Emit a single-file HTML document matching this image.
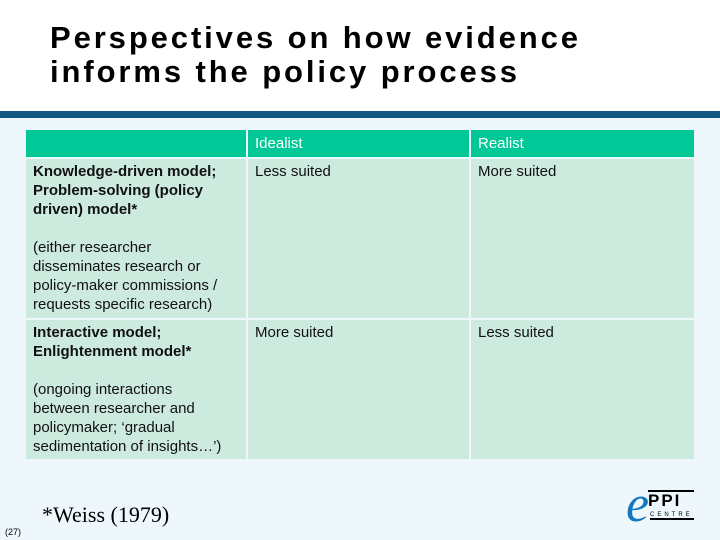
<!DOCTYPE html>
<html><head><meta charset="utf-8"><style>
body{margin:0;width:720px;height:540px;overflow:hidden;position:relative;background:#eef8fc;font-family:"Liberation Sans",sans-serif}
.top{position:absolute;left:0;top:0;width:720px;height:111px;background:#fff}
.bar{position:absolute;left:0;top:111px;width:720px;height:7px;background:#0f5a82}
h1{position:absolute;left:50px;top:21px;margin:0;font-size:31px;line-height:34px;font-weight:bold;letter-spacing:2.9px;color:#000;white-space:nowrap}
.c{position:absolute;font-size:15px;line-height:19px;color:#111;box-sizing:border-box;padding:3px 7px;white-space:nowrap}
.h{background:#00c896;color:#fff}
.r{background:#cdeadf}
b{font-weight:bold}
</style></head><body>
<div class="top"></div>
<h1>Perspectives on how evidence<br>informs the policy process</h1>
<div class="bar"></div>
<div class="c h" style="left:26px;top:130px;width:220px;height:27px"></div>
<div class="c h" style="left:248px;top:130px;width:221px;height:27px;padding-top:4px">Idealist</div>
<div class="c h" style="left:471px;top:130px;width:223px;height:27px;padding-top:4px">Realist</div>
<div class="c r" style="left:26px;top:159px;width:220px;height:159px"><b>Knowledge-driven model;<br>Problem-solving (policy<br>driven) model*</b><br><br>(either researcher<br>disseminates research or<br>policy-maker commissions /<br>requests specific research)</div>
<div class="c r" style="left:248px;top:159px;width:221px;height:159px">Less suited</div>
<div class="c r" style="left:471px;top:159px;width:223px;height:159px">More suited</div>
<div class="c r" style="left:26px;top:320px;width:220px;height:139px"><b>Interactive model;<br>Enlightenment model*</b><br><br>(ongoing interactions<br>between researcher and<br>policymaker; ‘gradual<br>sedimentation of insights…’)</div>
<div class="c r" style="left:248px;top:320px;width:221px;height:139px">More suited</div>
<div class="c r" style="left:471px;top:320px;width:223px;height:139px">Less suited</div>
<div style="position:absolute;left:42px;top:502px;font-family:'Liberation Serif',serif;font-size:22px">*Weiss (1979)</div>
<div style="position:absolute;left:5px;top:527px;font-size:9px">(27)</div>
<div style="position:absolute;left:626px;top:486px;width:70px;height:44px">
<div style="position:absolute;left:0;top:-6px;font-family:'Liberation Serif',serif;font-style:italic;font-size:52px;color:#1478c0;line-height:50px">e</div>
<div style="position:absolute;left:22px;top:4px;width:46px;border-top:2px solid #000;font-size:17px;font-weight:bold;letter-spacing:2px;line-height:18px">PPI</div>
<div style="position:absolute;left:24px;top:26px;width:44px;font-size:6px;letter-spacing:3px;border-bottom:2px solid #000">CENTRE</div>
</div>
</body></html>
